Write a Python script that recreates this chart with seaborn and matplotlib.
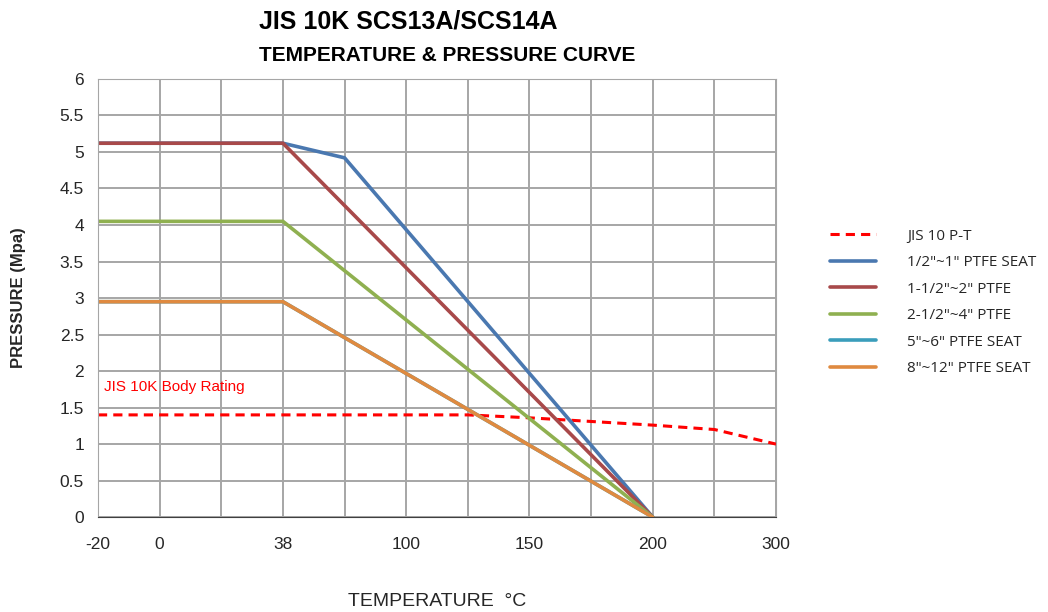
import matplotlib
matplotlib.use("Agg")
import matplotlib.pyplot as plt
import seaborn as sns

# x positions are grid slots; only some slots carry a temperature label
tick_pos = [0, 1, 3, 5, 7, 9, 11]
tick_labels = ["-20", "0", "38", "100", "150", "200", "300"]

jis_x = [0, 1, 2, 3, 4, 5, 6, 7, 8, 9, 10, 11]
jis_y = [1.4, 1.4, 1.4, 1.4, 1.4, 1.4, 1.4, 1.36, 1.31, 1.26, 1.2, 1.0]

seat_x = [0, 3, 9]
blue_x = [0, 3, 4, 9]
blue_y = [5.12, 5.12, 4.92, 0]
red_y = [5.12, 5.12, 0]
green_y = [4.05, 4.05, 0]
teal_y = [2.95, 2.95, 0]
orange_y = [2.95, 2.95, 0]

sns.set_style("white")
plt.rcParams["font.family"] = ["Liberation Sans", "DejaVu Sans"]

fig = plt.figure(figsize=(10.48, 6.12), dpi=100)
ax = fig.add_axes([0.0935, 0.155, 0.647, 0.716])

lw = 2.6
sns.lineplot(x=jis_x, y=jis_y, ax=ax, color="#ff0000", lw=2.2, linestyle=(0, (3, 2)), label="JIS 10 P-T")
sns.lineplot(x=blue_x, y=blue_y, ax=ax, color="#4a78b0", lw=lw, label='1/2"~1" PTFE SEAT')
sns.lineplot(x=seat_x, y=red_y, ax=ax, color="#a8494a", lw=lw, label='1-1/2"~2" PTFE')
sns.lineplot(x=seat_x, y=green_y, ax=ax, color="#8fb050", lw=lw, label='2-1/2"~4" PTFE')
sns.lineplot(x=seat_x, y=teal_y, ax=ax, color="#3a9dbb", lw=lw, label='5"~6" PTFE SEAT')
sns.lineplot(x=seat_x, y=orange_y, ax=ax, color="#df8a40", lw=lw, label='8"~12" PTFE SEAT')

ax.set_xlim(0, 11)
ax.set_ylim(0, 6)
ax.set_xticks(range(12), minor=True)
ax.set_xticks(tick_pos)
ax.set_xticklabels(tick_labels, fontsize=12.5)
ax.set_yticks([i * 0.5 for i in range(13)])
ax.set_yticklabels(["0", "0.5", "1", "1.5", "2", "2.5", "3", "3.5", "4", "4.5", "5", "5.5", "6"], fontsize=12.5)
ax.grid(True, which="both", color="#a6a6a6", lw=1.4)
ax.set_axisbelow(True)
ax.tick_params(axis="x", length=0, pad=14)
ax.tick_params(axis="y", length=0, pad=10)
for s in ["left", "top", "right"]:
    ax.spines[s].set_color("#a6a6a6")
ax.spines["bottom"].set_color("#404040")

ax.text(0.1, 1.78, "JIS 10K Body Rating", color="#ff0000", fontsize=11, va="center")

ax.set_xlabel("TEMPERATURE  °C", fontsize=14, labelpad=30)
ax.set_ylabel("PRESSURE (Mpa)", fontsize=12, fontweight="bold", labelpad=24)

fig.text(0.39, 0.965, "JIS 10K SCS13A/SCS14A", ha="center", va="center", fontsize=18,
         fontweight="bold", color="black", family=["Liberation Sans Narrow", "Liberation Sans"])
fig.text(0.427, 0.91, "TEMPERATURE & PRESSURE CURVE", ha="center", va="center", fontsize=15,
         fontweight="bold", color="black")

ax.legend(loc="center left", bbox_to_anchor=(1.06, 0.49), frameon=False,
          handlelength=3.0, labelspacing=0.75, handletextpad=2.0,
          prop={"family": ["Open Sans", "DejaVu Sans"], "size": 11})

fig.savefig("out.png", dpi=100)
